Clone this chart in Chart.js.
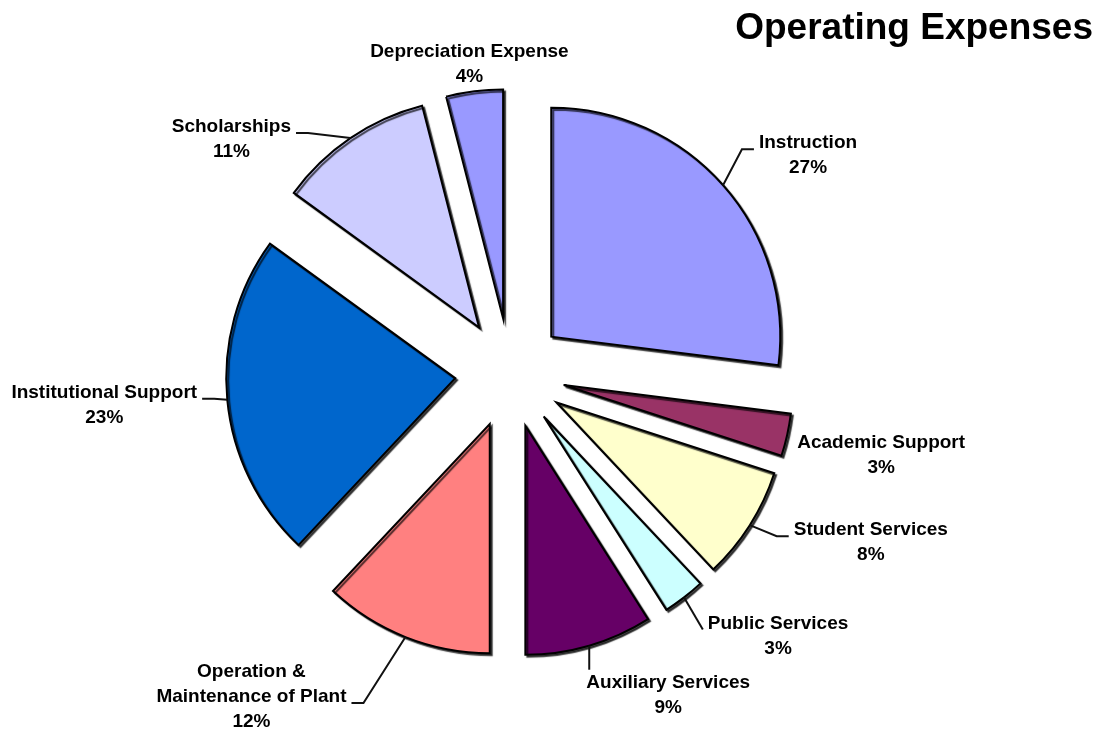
<!DOCTYPE html>
<html>
<head>
<meta charset="utf-8">
<script src="https://cdn.jsdelivr.net/npm/chart.js@4.4.1/dist/chart.umd.min.js"></script>
<style>
html, body { margin: 0; padding: 0; background: #fff; }
#wrap { width: 1102px; height: 731px; }
</style>
</head>
<body>
<div id="wrap"><canvas id="expenseChart"></canvas></div>
<script>
var categories = [
"Instruction",
"Academic Support",
"Student Services",
"Public Services",
"Auxiliary Services",
"Operation & Maintenance of Plant",
"Institutional Support",
"Scholarships",
"Depreciation Expense"
];
var shares = [27, 3, 8, 3, 9, 12, 23, 11, 4];
var sliceColors = [
"#9999FF",
"#993366",
"#FFFFCC",
"#CCFFFF",
"#660066",
"#FF8080",
"#0066CC",
"#CCCCFF",
"#9999FF"
];
var chartTitle = "Operating Expenses";

// label placement, relative to the outer edge of each slice
var labelNudge = [[85,-42],[94,8],[121,5],[94,26],[79,37],[-154,35],[-123,-7],[-119,-11],[-5,-39]];
var leaderType = ["side","none","side","direct","top","side","side","side","none"];
var EXPLODE = 55;
var LINE_H = 25;
var LABEL_FONT = 'bold 19px "Liberation Sans", Arial, sans-serif';

function wrap(ctx, text, maxW) {
    var words = text.split(' ');
    var lines = [];
    var cur = '';
    words.forEach(function (w) {
        var test = cur ? cur + ' ' + w : w;
        if (cur && ctx.measureText(test).width > maxW) {
            lines.push(cur);
            cur = w;
        } else {
            cur = test;
        }
    });
    if (cur) lines.push(cur);
    return lines;
}

// push every slice out along its middle angle
var explodePlugin = {
    id: 'explode',
    afterDatasetUpdate: function (chart, args) {
        args.meta.data.forEach(function (arc) {
            var mid = (arc.startAngle + arc.endAngle) / 2;
            arc.x += Math.cos(mid) * EXPLODE;
            arc.y += Math.sin(mid) * EXPLODE;
        });
    },
    beforeDatasetsDraw: function (chart) {
        var c = chart.ctx;
        c.save();
        c.shadowColor = 'rgba(0,0,0,0.7)';
        c.shadowOffsetX = 2;
        c.shadowOffsetY = 2;
        c.shadowBlur = 1;
    },
    afterDatasetsDraw: function (chart) {
        chart.ctx.restore();
    }
};

var labelPlugin = {
    id: 'sliceLabels',
    afterDraw: function (chart) {
        var ctx = chart.ctx;
        var meta = chart.getDatasetMeta(0);
        var total = shares.reduce(function (a, b) { return a + b; }, 0);
        ctx.save();
        ctx.font = LABEL_FONT;
        ctx.fillStyle = '#000';
        ctx.textAlign = 'center';
        ctx.textBaseline = 'middle';
        ctx.strokeStyle = '#111';
        ctx.lineWidth = 2;
        meta.data.forEach(function (arc, i) {
            var mid = (arc.startAngle + arc.endAngle) / 2;
            var px = arc.x + Math.cos(mid) * arc.outerRadius;
            var py = arc.y + Math.sin(mid) * arc.outerRadius;
            var lines = wrap(ctx, categories[i], 210);
            lines.push(Math.round(shares[i] / total * 100) + '%');
            var cx = px + labelNudge[i][0];
            var cy = py + labelNudge[i][1];
            var w = Math.max.apply(null, lines.map(function (l) { return ctx.measureText(l).width; }));
            lines.forEach(function (l, k) {
                ctx.fillText(l, cx, cy + k * LINE_H);
            });
            var type = leaderType[i];
            if (type === 'side' || type === 'direct') {
                var ey = cy + (lines.length - 2) * LINE_H + 6;
                var right = cx > px;
                var ex = right ? cx - w / 2 - 5 : cx + w / 2 + 5;
                var bx = type === 'direct' ? ex : (right ? ex - 12 : ex + 12);
                ctx.beginPath();
                ctx.moveTo(px, py);
                ctx.lineTo(bx, ey);
                ctx.lineTo(ex, ey);
                ctx.stroke();
            } else if (type === 'top') {
                ctx.beginPath();
                ctx.moveTo(px, py);
                ctx.lineTo(px, cy - 13);
                ctx.stroke();
            }
        });
        // title, top right
        ctx.font = 'bold 37px "Liberation Sans", Arial, sans-serif';
        ctx.textAlign = 'right';
        ctx.textBaseline = 'alphabetic';
        ctx.fillText(chartTitle, chart.width - 9, 39);
        ctx.restore();
    }
};

new Chart("expenseChart", {
    type: "pie",
    data: {
        labels: categories,
        datasets: [{
            data: shares,
            backgroundColor: sliceColors,
            borderColor: "#000",
            borderWidth: 2,
            borderJoinStyle: "miter",
            radius: 229
        }]
    },
    options: {
        responsive: true,
        maintainAspectRatio: false,
        animation: false,
        layout: { padding: { left: 0, right: 82, top: 15, bottom: 0 } },
        plugins: {
            legend: { display: false },
            tooltip: { enabled: false }
        }
    },
    plugins: [explodePlugin, labelPlugin]
});
</script>
</body>
</html>
